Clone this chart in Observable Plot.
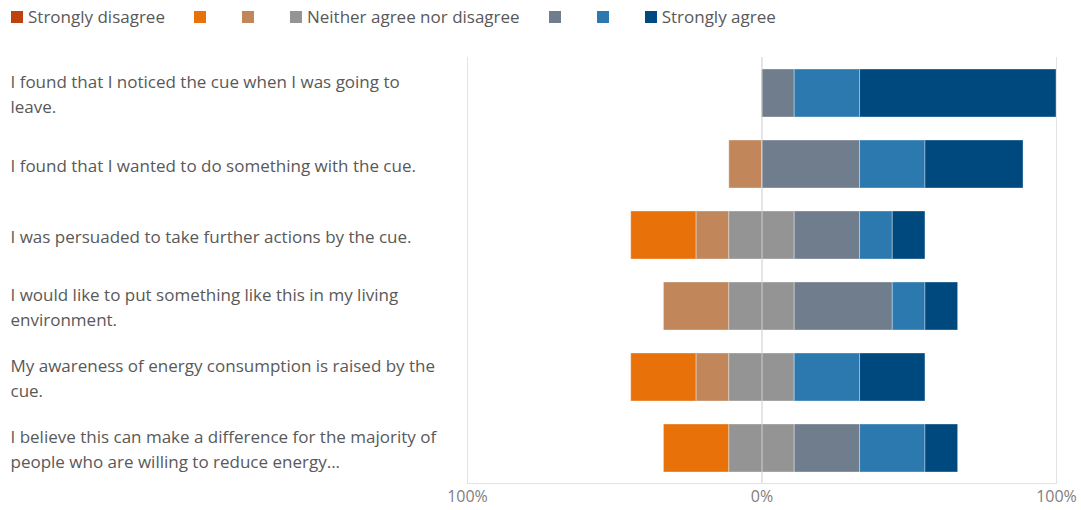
<!DOCTYPE html>
<html>
<head>
<meta charset="utf-8">
<script src="https://cdn.jsdelivr.net/npm/d3@7"></script>
<script src="https://cdn.jsdelivr.net/npm/@observablehq/plot@0.6"></script>
<style>
  html, body { margin: 0; padding: 0; background: #fff; }
  body { width: 1081px; height: 510px; overflow: hidden; font-family: "Open Sans", "Noto Sans", sans-serif; }
  #legend { height: 36px; display: flex; align-items: center; padding-left: 11px; padding-bottom: 3px; font-size: 17px; color: #595959; box-sizing: border-box; white-space: nowrap; }
  .item { display: inline-flex; align-items: center; }
  .sw { width: 12px; height: 12px; display: inline-block; }
  .lbl { margin-left: 5px; }
</style>
</head>
<body>
<div id="legend"></div>
<div id="chart"></div>
<script>
const statements = [
  "I found that I noticed the cue when I was going to\nleave.",
  "I found that I wanted to do something with the cue.",
  "I was persuaded to take further actions by the cue.",
  "I would like to put something like this in my living\nenvironment.",
  "My awareness of energy consumption is raised by the\ncue.",
  "I believe this can make a difference for the majority of\npeople who are willing to reduce energy..."
];
const categories = ["Strongly disagree", "Disagree", "Somewhat disagree", "Neither agree nor disagree", "Somewhat agree", "Agree", "Strongly agree"];
const legendLabels = ["Strongly disagree", "", "", "Neither agree nor disagree", "", "", "Strongly agree"];
const colors = ["#bd420d", "#e8710a", "#c1875b", "#949494", "#6f7d8c", "#2c79b0", "#00497f"];
// percentages per statement, in category order
const stronglyDisagree = [0, 0, 0, 0, 0, 0];
const disagree         = [0, 0, 22.2, 0, 22.2, 22.2];
const somewhatDisagree = [0, 11.1, 11.1, 22.2, 11.1, 0];
const neutral          = [0, 0, 22.2, 22.2, 22.2, 22.2];
const somewhatAgree    = [11.1, 33.3, 22.2, 33.3, 0, 22.2];
const agree            = [22.2, 22.2, 11.1, 11.1, 22.2, 22.2];
const stronglyAgree    = [66.7, 33.3, 11.1, 11.1, 22.2, 11.1];
const xTicks = [-100, 0, 100];

const series = [stronglyDisagree, disagree, somewhatDisagree, neutral, somewhatAgree, agree, stronglyAgree];

// diverging stack: negatives + half of neutral to the left of zero
const rows = [];
statements.forEach((s, i) => {
  let start = -(series[0][i] + series[1][i] + series[2][i] + series[3][i] / 2);
  categories.forEach((c, k) => {
    const v = series[k][i];
    if (v > 0) rows.push({statement: s, category: c, x1: start, x2: start + v});
    start += v;
  });
});

// legend
const legend = d3.select("#legend");
legendLabels.forEach((l, k) => {
  const it = legend.append("span").attr("class", "item").style("margin-right", l ? "29px" : "36px");
  it.append("span").attr("class", "sw").style("background", colors[k]);
  if (l) it.append("span").attr("class", "lbl").text(l);
});

const chart = Plot.plot({
  width: 1081,
  height: 474,
  marginLeft: 467,
  marginRight: 25,
  marginTop: 21,
  marginBottom: 27,
  style: {fontFamily: "'Open Sans', 'Noto Sans', sans-serif", color: "#595959", background: "#fff"},
  x: {domain: [-100, 100], ticks: xTicks, tickFormat: d => Math.abs(d) + "%"},
  y: {domain: statements, paddingInner: 0.324, paddingOuter: 0.162, axis: null},
  color: {domain: categories, range: colors},
  marks: [
    Plot.ruleX(xTicks, {stroke: "#e3e3e3"}),
    Plot.frame({anchor: "bottom", stroke: "#e3e3e3"}),
    Plot.barX(rows, {y: "statement", x1: "x1", x2: "x2", fill: "category", stroke: "#ffffff", strokeOpacity: 0.35, strokeWidth: 1, inset: 0}),
    Plot.ruleX([0], {stroke: "#d6d6d6", strokeOpacity: 0.9}),
    Plot.axisX({ticks: xTicks, tickFormat: d => Math.abs(d) + "%", tickSize: 0, tickPadding: 7, fontSize: 16, color: "#808080", label: null}),
    Plot.text(statements, {y: d => d, frameAnchor: "left", textAnchor: "start", dx: -457, dy: -1, fontSize: 17, lineHeight: 1.47, fill: "#595959"})
  ]
});
document.getElementById("chart").appendChild(chart);
</script>
</body>
</html>
